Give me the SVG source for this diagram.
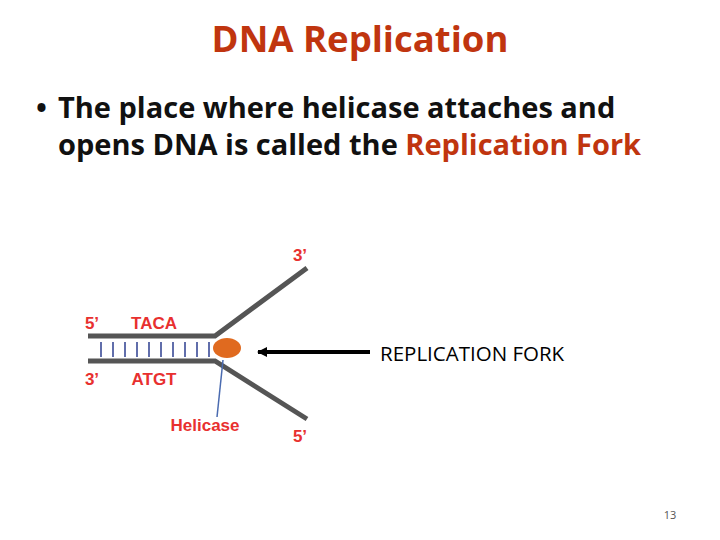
<svg xmlns="http://www.w3.org/2000/svg" width="720" height="540" viewBox="0 0 720 540">
<style>
.t{font-family:"Open Sans","Liberation Sans",sans-serif}
.lab{font-family:"Liberation Sans",sans-serif;font-weight:bold;fill:#e8302f;font-size:17px}
.strand{stroke:#555;stroke-width:5;fill:none}
.rung{stroke:#2c3e8f;stroke-width:1.5}
</style>
<defs><marker id="ah" markerWidth="10" markerHeight="10" refX="9" refY="5" orient="auto" markerUnits="userSpaceOnUse"><path d="M0,0 L10,5 L0,10 z" fill="#000"/></marker></defs>
<rect width="720" height="540" fill="#fff"/>
<text class="t" x="360" y="52" text-anchor="middle" font-size="36.5" font-weight="bold" fill="#c0350f">DNA Replication</text>
<text class="t" x="36" y="118" font-size="29" font-weight="bold" fill="#111">•</text>
<text class="t" x="58" y="118" font-size="29" font-weight="bold" fill="#111">The place where helicase attaches and</text>
<text class="t" x="58" y="155" font-size="29" font-weight="bold" fill="#111">opens DNA is called the <tspan fill="#c0350f">Replication Fork</tspan></text>
<g id="dna">
<path class="strand" d="M88,336 L215,336 L307,268"/>
<path class="strand" d="M88,361 L215,361 L307,419"/>
<g class="rung">
<line x1="101" y1="342" x2="101" y2="357"/><line x1="113" y1="342" x2="113" y2="357"/><line x1="125" y1="342" x2="125" y2="357"/><line x1="137" y1="342" x2="137" y2="357"/><line x1="149" y1="342" x2="149" y2="357"/><line x1="161" y1="342" x2="161" y2="357"/><line x1="173" y1="342" x2="173" y2="357"/><line x1="185" y1="342" x2="185" y2="357"/><line x1="197" y1="342" x2="197" y2="357"/><line x1="209" y1="342" x2="209" y2="357"/>
</g>
</g>
<g id="helicase">
<ellipse cx="227" cy="348" rx="14" ry="10" fill="#e06a1f"/>
<line x1="223" y1="360" x2="217" y2="417" stroke="#4a6bb0" stroke-width="1.5"/>
<text class="lab" x="205" y="431" text-anchor="middle">Helicase</text>
</g>
<g id="labels">
<text class="lab" x="300" y="261" text-anchor="middle">3’</text>
<text class="lab" x="92" y="329" text-anchor="middle">5’</text>
<text class="lab" x="154" y="329" text-anchor="middle">TACA</text>
<text class="lab" x="92" y="385" text-anchor="middle">3’</text>
<text class="lab" x="154" y="385" text-anchor="middle">ATGT</text>
<text class="lab" x="300" y="442" text-anchor="middle">5’</text>
</g>
<g id="connectors">
<line x1="370" y1="352" x2="258" y2="352" stroke="#000" stroke-width="4" marker-end="url(#ah)"/>
</g>
<text class="t" x="380" y="361" font-size="20.5" fill="#000">REPLICATION FORK</text>
<text class="t" x="670" y="519" font-size="11" fill="#555" text-anchor="middle">13</text>
</svg>
